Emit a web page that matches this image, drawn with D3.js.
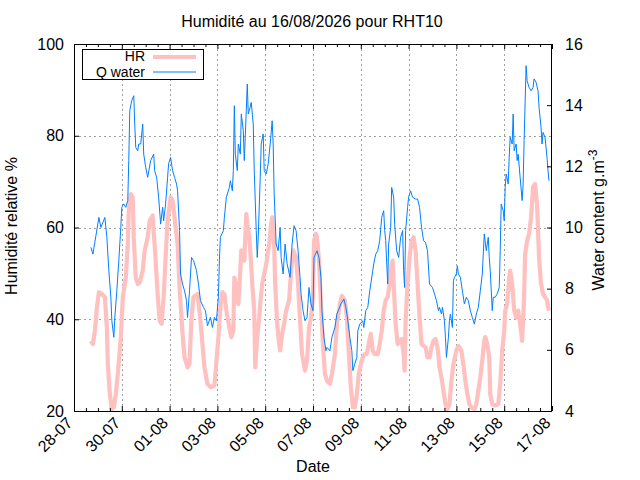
<!DOCTYPE html>
<html><head><meta charset="utf-8">
<script src="https://cdn.jsdelivr.net/npm/d3@7"></script>
<style>
body{margin:0;background:#fff}
text{font-family:"Liberation Sans",Arial,Helvetica,sans-serif;fill:#000}
</style>
</head><body>
<svg id="chart" width="640" height="480"></svg>
<script>
// ---- data (hours since 28-07-2026 00:00, value) ----
const startDay = "2026-07-28";
const spanDays = 20;
const titleText = "Humidité au 16/08/2026 pour RHT10";
const xTickLabels = ["28-07","30-07","01-08","03-08","05-08","07-08","09-08","11-08","13-08","15-08","17-08"];
const leftTicks = [20,40,60,80,100];
const rightTicks = [4,6,8,10,12,14,16];
const seriesNames = ["HR","Q water"];

const hrSeries = [
[17,35.3],[19,34.6],[21,37.5],[23,42.6],[25,45.9],[28,45.5],[31,44.8],[33,38.2],[34,30.2],[36,23.7],
[38,20.4],[40,20.8],[42,23.7],[44,28.1],[47,36.1],[49,44.8],[52,49.1],[54,56.4],[55,63.7],[57,67.3],
[59,66.6],[60,57.9],[62,49.1],[64,47.7],[66,48.0],[69,50.6],[71,55.0],[74,57.9],[76,61.5],[79,62.6],
[80,59.3],[82,52.8],[84,45.5],[86,39.7],[88,39.0],[90,44.8],[92,53.5],[94,61.5],[97,66.6],[99,65.9],
[101,62.2],[104,56.4],[106,47.0],[109,36.8],[111,31.7],[114,29.5],[116,30.2],[118,40.4],
[120,44.8],[124,45.5],[126,41.9],[129,34.6],[131,29.5],[134,25.9],[137,25.2],[141,25.5],[142,28.1],[145,36.1],
[147,42.6],[149,45.9],[151,45.5],[153,41.9],[156,38.2],[158,36.1],[160,37.5],[161,49.1],[163,47.0],[165,43.3],
[167,50.6],[168,55.0],[170,53.5],[171,52.8],[173,62.9],[174,60.8],[176,57.9],[177,55.0],[179,47.7],[181,41.9],
[182,29.5],[184,36.1],[186,40.4],[187,43.3],[189,47.7],[191,49.9],[193,52.0],[196,56.4],[198,60.8],[199,62.2],
[201,56.4],[202,47.7],[204,39.0],[206,34.6],[207,33.2],[209,36.8],[211,39.0],[213,41.9],[216,44.1],[218,50.6],
[220,55.0],[223,53.5],[225,47.7],[227,39.7],[229,32.4],[232,28.8],[234,31.0],[236,38.2],[238,40.4],[240,44.8],
[241,57.1],[243,58.6],[244,57.9],[246,52.8],[248,43.3],[250,34.6],[252,28.1],[254,26.6],[257,25.9],[259,28.1],
[262,32.4],[264,39.0],[267,43.3],[269,45.1],[272,44.1],[274,40.4],[276,32.4],[278,25.2],[280,20.8],[282,20.8],
[284,23.7],[286,28.1],[288,30.2],[290,31.7],[292,32.4],[294,32.4],[296,34.6],[298,36.8],[300,33.2],[302,32.4],
[305,32.4],[307,34.6],[309,37.5],[311,41.9],[313,44.1],[315,44.8],[317,47.7],[319,52.0],[320,52.8],[321,47.7],
[323,39.0],[325,34.6],[327,35.3],[329,35.7],[331,32.4],[332,28.8],[333,39.7],[335,47.7],[337,53.5],[339,57.1],
[341,57.9],[343,55.0],[345,47.7],[347,40.4],[349,34.6],[351,34.2],[353,33.9],[355,31.7],[357,31.7],[359,33.9],
[361,35.3],[363,35.7],[365,33.9],[366,32.1],
[367,29.5],[369,27.3],[371,24.4],[373,21.5],[375,20.4],[377,21.5],[379,26.6],[381,30.2],[384,33.2],[386,34.2],
[389,33.2],[391,30.2],[393,26.6],[395,23.7],[397,21.5],[399,20.8],[402,20.4],[404,21.5],[406,24.4],[408,27.3],
[410,31.0],[412,35.3],[413,36.1],[415,34.6],[417,31.7],[418,23.7],[420,21.5],[423,21.2],[426,21.5],[428,25.9],
[430,33.2],[432,37.5],[433,41.9],[435,43.3],[437,49.1],[438,50.6],[440,47.7],[442,41.9],[444,40.4],[446,41.9],
[448,39.0],[450,35.3],[452,44.8],[453,54.2],[455,57.1],[457,58.6],[459,62.2],[461,68.8],[463,69.5],[465,65.1],
[466,59.3],[467,53.5],[469,47.7],[471,45.5],[473,44.8],[475,44.1],[476,42.6],[477,41.9]
];

const qSeries = [
[17,9.35],[19,9.13],[22,9.73],[25,10.33],[27,10.0],[31,10.33],[33,9.68],[35,8.59],[37,7.72],[38,6.95],
[40,6.41],[41,7.06],[43,7.93],[45,8.92],[47,10.0],[48,10.66],[50,10.77],[52,10.66],[54,10.88],[55,12.19],
[56,13.82],[58,14.15],[60,14.31],[61,13.38],[62,12.62],[64,12.51],[65,12.73],[67,12.73],[69,13.38],[70,12.40],
[72,11.97],[74,11.64],[77,12.19],[80,12.40],[81,11.86],[83,11.64],[85,10.99],[87,10.11],[89,10.66],[90,10.22],
[92,10.77],[94,11.64],[95,12.08],[97,12.29],[99,11.86],[101,11.64],[103,11.42],[104,11.20],[106,9.90],[107,8.48],
[109,8.15],[111,7.93],[113,7.61],[114,7.06],[116,7.93],[118,9.02],
[120,8.92],[123,8.59],[125,8.15],[127,7.61],[130,7.39],[132,7.28],[134,6.79],[137,7.06],[139,6.73],[141,7.06],
[143,6.95],[145,7.72],[146,8.92],[147,9.68],[150,9.90],[151,10.33],[153,10.99],[156,11.31],[157,11.53],[159,11.20],
[160,11.86],[161,13.98],[162,12.40],[164,11.86],[165,12.73],[167,12.40],[168,13.71],[170,13.17],[171,12.19],[173,13.82],
[174,14.69],[175,13.71],[176,13.82],[178,14.09],[180,13.38],[181,11.86],[183,9.90],[184,9.02],[185,9.68],[187,11.64],
[188,12.73],[190,13.06],[191,11.86],[193,11.75],[195,12.08],[197,12.73],[199,13.49],[200,12.73],[201,11.10],[203,9.46],
[205,9.24],[207,10.0],[208,9.02],[210,8.48],[212,9.46],[214,8.81],[217,8.37],[219,9.46],[221,10.06],[223,9.90],
[225,9.24],[227,8.37],[228,7.83],[230,7.28],[232,6.95],[234,7.06],[236,8.04],[238,7.50],[240,7.28],
[241,9.02],[244,9.24],[246,9.02],[248,8.37],[249,7.28],[251,6.41],[253,5.97],[254,6.08],[257,5.97],[259,6.41],
[262,6.73],[264,7.17],[266,7.33],[268,7.50],[271,7.66],[273,7.39],[275,6.95],[277,6.41],[279,5.97],[280,5.32],
[282,5.54],[284,5.75],[285,6.63],[287,6.84],[290,6.95],[291,6.73],[293,7.28],[295,7.39],[297,7.93],[300,8.59],
[301,8.81],[303,9.13],[305,9.24],[307,9.57],[309,10.33],[311,10.55],[312,9.90],[313,9.57],[315,8.15],[316,9.46],
[318,10.0],[319,11.31],[321,10.99],[322,10.11],[324,9.24],[326,9.02],[328,9.68],[330,9.90],[331,8.59],[332,8.04],
[333,9.90],[335,10.66],[336,10.99],[338,11.20],[340,10.99],[343,10.93],[345,10.93],[347,10.66],[349,10.0],[351,9.57],
[353,9.51],[355,9.24],[357,8.15],[360,8.04],[362,7.83],[364,7.61],[366,7.28],
[367,7.39],[369,7.17],[370,7.39],[372,6.95],[373,6.41],[374,5.75],[376,6.41],[377,6.95],[378,7.17],[380,6.73],
[381,8.26],[382,8.37],[384,8.48],[385,8.75],[386,8.48],[388,8.37],[390,7.93],[392,7.50],[394,7.72],[396,7.61],
[398,7.28],[400,7.06],[402,6.84],[404,7.17],[406,7.39],[408,7.93],[410,8.48],[411,9.13],[412,9.79],[414,9.24],
[416,9.68],[417,9.02],[418,8.59],[420,7.28],[421,7.72],[423,7.72],[425,7.83],[427,8.04],[428,9.24],[429,10.77],
[431,10.55],[432,10.22],[433,11.31],[434,11.75],[436,11.42],[437,12.29],[438,12.95],[440,12.73],[441,13.71],[442,12.51],
[444,12.73],[445,12.19],[446,12.40],[448,11.64],[450,10.88],[451,11.42],[452,12.84],[454,15.29],[455,14.80],[457,14.58],
[459,14.47],[461,14.58],[462,14.86],[464,14.75],[466,14.47],[467,13.93],[469,13.28],[470,12.73],[471,13.11],[473,12.95],
[475,12.29],[476,11.86],[477,11.53]
];

// ---- layout ----
const L = 74, R = 552, T = 44, B = 411;
const FS = 16;
const pink = "#ffc0c0", blue = "#0080ff";

const svg = d3.select("#chart");
const t0 = new Date(startDay + "T00:00:00Z");
const toDate = h => new Date(t0.getTime() + h * 3600e3);
const x = d3.scaleUtc().domain([t0, toDate(spanDays * 24)]).range([L, R]);
const yL = d3.scaleLinear().domain([20, 100]).range([B, T]);
const yR = d3.scaleLinear().domain([4, 16]).range([B, T]);

const majorTimes = xTickLabels.map((_, i) => toDate(i * 48));
const minorTimes = d3.range(0, spanDays * 24 + 1, 12).filter(h => h % 48 !== 0).map(toDate);
const fmt = d3.utcFormat("%d-%m");

// grid
const grid = svg.append("g").attr("stroke", "#a0a0a0").attr("stroke-width", 1).attr("stroke-dasharray", "2,3");
grid.selectAll("line.gx").data(majorTimes.slice(1, -1)).join("line")
  .attr("x1", d => Math.round(x(d)) + 0.5).attr("x2", d => Math.round(x(d)) + 0.5)
  .attr("y1", T).attr("y2", B);
grid.selectAll("line.gy").data(leftTicks.slice(1, -1)).join("line")
  .attr("x1", L).attr("x2", R)
  .attr("y1", d => Math.round(yL(d)) + 0.5).attr("y2", d => Math.round(yL(d)) + 0.5);

// clip
svg.append("clipPath").attr("id", "clip").append("rect")
  .attr("x", L).attr("y", T).attr("width", R - L).attr("height", B - T);

const plot = svg.append("g").attr("clip-path", "url(#clip)");
const lineHR = d3.line().x(d => x(toDate(d[0]))).y(d => yL(d[1]));
const lineQ = d3.line().x(d => x(toDate(d[0]))).y(d => yR(d[1]));
plot.append("path").datum(hrSeries).attr("d", lineHR)
  .attr("fill", "none").attr("stroke", pink).attr("stroke-width", 4.2).attr("stroke-linejoin", "round");
plot.append("path").datum(qSeries).attr("d", lineQ)
  .attr("fill", "none").attr("stroke", blue).attr("stroke-width", 1).attr("stroke-linejoin", "miter");

// axes
function styleAxis(g) {
  g.select(".domain").remove();
  g.selectAll(".tick line").attr("stroke", "#000");
  g.selectAll("text").attr("font-size", FS).attr("font-family", null);
}
svg.append("g").attr("transform", `translate(0,${B})`)
  .call(d3.axisBottom(x).tickValues(minorTimes).tickSize(-3).tickFormat(""))
  .call(styleAxis);
svg.append("g").attr("transform", `translate(0,${T})`)
  .call(d3.axisTop(x).tickValues(minorTimes).tickSize(-3).tickFormat(""))
  .call(styleAxis);
svg.append("g").attr("transform", `translate(0,${T})`)
  .call(d3.axisTop(x).tickValues(majorTimes).tickSize(-5).tickFormat(""))
  .call(styleAxis);
const xb = svg.append("g").attr("transform", `translate(0,${B})`)
  .call(d3.axisBottom(x).tickValues(majorTimes).tickSize(-5).tickFormat((d, i) => xTickLabels[i] || fmt(d)))
  .call(styleAxis);
xb.selectAll(".tick text")
  .attr("x", 0).attr("y", 0).attr("dy", 0)
  .attr("text-anchor", "end")
  .attr("transform", "translate(-1,13) rotate(-45)");

svg.append("g").attr("transform", `translate(${L},0)`)
  .call(d3.axisLeft(yL).tickValues(leftTicks).tickSize(-5).tickPadding(10))
  .call(styleAxis);
svg.append("g").attr("transform", `translate(${R},0)`)
  .call(d3.axisRight(yR).tickValues(rightTicks).tickSize(-5).tickPadding(13))
  .call(styleAxis);

// border
svg.append("rect").attr("x", L + 0.5).attr("y", T + 0.5).attr("width", R - L - 1).attr("height", B - T)
  .attr("fill", "none").attr("stroke", "#000").attr("stroke-width", 1);

// title & labels
svg.append("text").attr("x", 312).attr("y", 26.5).attr("text-anchor", "middle").attr("font-size", FS).text(titleText);
svg.append("text").attr("x", 313).attr("y", 472).attr("text-anchor", "middle").attr("font-size", FS).text("Date");
svg.append("text").attr("transform", "translate(17,226) rotate(-90)").attr("text-anchor", "middle")
  .attr("font-size", FS).text("Humidité relative %");
const rl = svg.append("text").attr("transform", "translate(604,220) rotate(-90)").attr("text-anchor", "middle")
  .attr("font-size", FS);
rl.append("tspan").text("Water content g.m");
rl.append("tspan").attr("dy", -7).attr("font-size", 12).text("-3");

// legend
const lg = svg.append("g");
lg.append("rect").attr("x", 82.5).attr("y", 49.5).attr("width", 121).attr("height", 30)
  .attr("fill", "#fff").attr("stroke", "#000").attr("stroke-width", 1);
const legendColors = [pink, blue], legendWidths = [4.2, 1], legendY = [57, 72];
const legendBase = [60.5, 76.8];
seriesNames.forEach((n, i) => {
  lg.append("text").attr("x", 145).attr("y", legendBase[i]).attr("text-anchor", "end").attr("font-size", 14).text(n);
  lg.append("line").attr("x1", 153).attr("x2", 196).attr("y1", legendY[i]).attr("y2", legendY[i])
    .attr("stroke", legendColors[i]).attr("stroke-width", legendWidths[i]);
});
</script>
</body></html>
